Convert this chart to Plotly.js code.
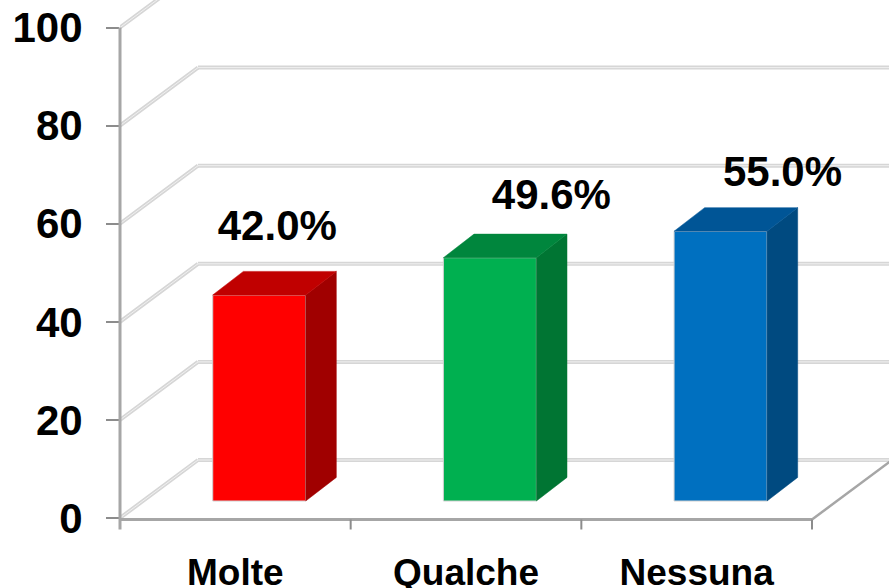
<!DOCTYPE html>
<html><head><meta charset="utf-8">
<script src="https://cdn.plot.ly/plotly-3.0.1.min.js"></script>
<style>html,body{margin:0;padding:0;background:#fff}#c{width:889px;height:588px}</style>
</head><body><div id="c"></div>
<script>
const categories = ["Molte","Qualche","Nessuna"];
const values = [42.0,49.6,55.0];
const valueLabels = ["42.0%","49.6%","55.0%"];
const yTicks = [0,20,40,60,80,100];
const frontColors = ["#ff0000","#00b050","#0070c0"];
const sideColors = ["#a00000","#007533","#004a80"];
const topColors = ["#c00000","#00863d","#005596"];
const labelDx = [0.182,0.370,0.372];
const labelDy = [13.3,12.0,11.3];

const pxPerCat=230.67, pxPerUnit=4.905;
const W=889,H=588,L=120,B=53,zeroPx=518;
const xMin=-0.5,xMax=xMin+(W-L)/pxPerCat;
const yMin=-(H-B-zeroPx)/pxPerUnit,yMax=zeroPx/pxPerUnit;
const wallDx=78/pxPerCat,wallDy=58/pxPerUnit;
const barW=93/pxPerCat,barOff=(259.2-235.3)/pxPerCat-barW/2;
const barBase=(zeroPx-501)/pxPerUnit;
const depX=30.6/pxPerCat,depY=23.6/pxPerUnit;
const axisY=-1.5/pxPerUnit;
const axisColor="#a6a6a6";

const idx=categories.map((_,i)=>i);
const traces=[{type:"bar",x:idx,y:values,base:values.map(()=>barBase),width:barW,offset:barOff,
  marker:{color:frontColors,line:{color:"#d0d0d0",width:1}},hoverinfo:"skip"}];
idx.forEach(i=>{
  const x0=i+barOff,x1=x0+barW,b=barBase,t=barBase+values[i];
  traces.push({type:"scatter",mode:"lines",fill:"toself",fillcolor:sideColors[i],line:{color:sideColors[i],width:0.5},
    x:[x1,x1+depX,x1+depX,x1,x1],y:[b,b+depY,t+depY,t,b],hoverinfo:"skip"});
  traces.push({type:"scatter",mode:"lines",fill:"toself",fillcolor:topColors[i],line:{color:topColors[i],width:0.5},
    x:[x0,x0+depX,x1+depX,x1,x0],y:[t,t+depY,t+depY,t,t],hoverinfo:"skip"});
});
traces.push({type:"scatter",mode:"text",x:idx.map(i=>i+labelDx[i]),y:values.map((v,i)=>barBase+v+labelDy[i]),
  text:valueLabels,textposition:"middle center",cliponaxis:false,
  textfont:{family:"Liberation Sans",size:42,weight:700,color:"#000"},hoverinfo:"skip"});

const shapes=[];
function line(x0,y0,x1,y1,color,width){shapes.push({type:"line",layer:"below",xref:"x",yref:"y",x0,y0,x1,y1,line:{color,width}});}
yTicks.forEach(v=>{
  [["#d6d6d6",4],["#f0f0f0",1]].forEach(([c,w])=>{
    line(xMin,v,xMin+wallDx,v+wallDy,c,w);
    line(xMin+wallDx,v+wallDy,xMax,v+wallDy,c,w);
  });
});
line(xMin,axisY,xMin+3,axisY,axisColor,3);
line(xMin+3,axisY,xMin+3+wallDx,axisY+wallDy,axisColor,2.5);
[1,2,3].forEach(k=>line(xMin+k,axisY,xMin+k,axisY-10/pxPerUnit,"#8c8c8c",2));
// left axis: drawn against the paper edge of the plot so it is not clipped in half
shapes.push({type:"line",layer:"above",xref:"paper",yref:"y",x0:0,x1:0,y0:axisY-10/pxPerUnit,y1:100,line:{color:axisColor,width:3}});

const layout={width:W,height:H,margin:{l:L,r:0,t:0,b:B},paper_bgcolor:"#fff",plot_bgcolor:"#fff",showlegend:false,
  hovermode:false,bargap:0,shapes,
  xaxis:{type:"linear",range:[xMin,xMax],tickvals:idx,ticktext:categories,ticks:"",showgrid:false,zeroline:false,showline:false,
    ticklabelstandoff:12,tickfont:{family:"Liberation Sans",size:37,weight:700,color:"#000"}},
  yaxis:{type:"linear",range:[yMin,yMax],tickvals:yTicks,ticks:"outside",ticklen:13,tickwidth:2,tickcolor:"#8c8c8c",showgrid:false,zeroline:false,showline:false,
    ticklabelstandoff:15,tickfont:{family:"Liberation Sans",size:42,weight:700,color:"#000"}}};
Plotly.newPlot("c",traces,layout,{displayModeBar:false,staticPlot:true});
</script></body></html>
